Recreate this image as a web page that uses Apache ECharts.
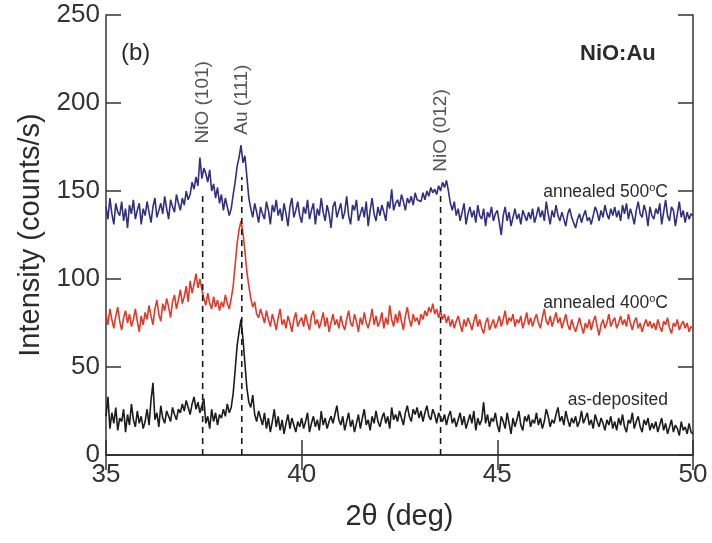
<!DOCTYPE html>
<html>
<head>
<meta charset="utf-8">
<script src="https://cdn.jsdelivr.net/npm/echarts@6/dist/echarts.min.js"></script>
<style>
html, body { margin: 0; padding: 0; background: #fff; }
#chart { width: 712px; height: 543px; }
</style>
</head>
<body>
<div id="chart"></div>
<script>
// scan grid: 35..50 deg, 0.05 deg step
const scanStart = 35
const scanStep = 0.05

const annealed500 = [
    141,134,146,137,131,143,138,136,144,133,140,129,142,137,145,134,139,143,131,140,
    136,144,138,132,141,146,135,139,143,137,147,140,134,145,141,138,148,143,139,146,
    142,150,145,148,155,151,158,153,169,157,163,160,155,162,150,154,146,152,143,148,
    139,146,141,136,140,148,155,164,169,176,166,170,158,146,140,135,143,138,132,141,
    137,134,144,139,131,142,138,145,136,140,133,143,137,130,141,146,135,139,144,136,
    132,141,137,145,134,139,143,131,140,136,146,138,133,142,137,129,141,144,135,139,
    143,134,138,147,136,131,142,139,145,133,137,141,135,144,130,139,146,137,133,141,
    136,142,138,133,144,140,151,139,143,145,141,148,144,139,146,143,147,142,149,145,
    146,144,149,145,150,147,152,149,151,148,153,150,155,152,156,150,143,139,144,136,
    140,133,138,143,131,137,141,135,139,132,142,136,134,140,130,138,135,141,133,137,
    139,132,125,136,141,133,138,130,135,140,134,137,131,139,136,133,138,134,140,132,
    136,141,135,139,133,144,137,131,139,135,142,136,133,138,134,130,137,140,135,132,
    129,134,137,132,136,139,133,135,131,136,141,138,133,139,135,142,137,134,140,136,
    141,135,139,133,142,137,143,134,140,136,131,139,144,137,135,142,138,130,141,136,
    134,140,137,143,131,138,145,136,133,141,139,130,137,144,135,139,132,138,134,137,
    136
]

const annealed400 = [
    80,74,83,77,72,79,84,76,71,78,82,75,80,73,77,83,76,70,79,74,
    81,77,85,79,74,83,88,80,76,86,82,89,84,78,87,91,83,88,94,86,
    90,96,87,99,92,97,103,95,100,94,89,85,92,86,83,90,84,88,82,87,
    84,91,86,83,89,96,108,120,128,133,126,116,104,96,89,84,87,80,78,83,
    79,75,82,77,73,80,76,71,78,83,74,77,72,79,75,70,77,81,73,76,
    78,73,80,75,71,79,82,74,77,72,76,81,73,78,70,75,80,74,77,72,
    79,74,71,77,82,75,73,80,76,70,78,74,81,75,72,77,83,74,79,73,
    76,81,72,78,74,85,77,73,80,75,82,76,71,79,84,77,73,80,76,78,
    74,80,77,82,79,84,81,86,80,83,78,82,77,80,75,79,73,77,72,76,
    79,74,70,77,73,78,75,71,76,80,73,77,72,69,75,78,71,74,77,72,
    75,79,73,77,82,74,78,76,80,73,77,75,79,72,76,81,74,78,73,77,
    80,75,72,78,83,76,74,79,73,77,81,75,78,72,76,80,74,71,77,73,
    70,74,78,73,69,75,72,77,71,76,79,73,68,74,77,72,75,80,73,76,
    78,72,75,79,74,77,73,80,75,71,76,78,72,75,70,74,77,73,76,72,
    75,71,77,73,70,76,74,78,72,69,75,73,77,71,74,76,72,75,70,73,
    72
]

const asDeposited = [
    22,33,15,24,18,27,14,21,19,26,13,23,17,29,20,16,25,18,22,15,
    19,26,17,31,41,20,24,16,28,21,18,25,22,19,27,23,20,26,24,29,
    25,31,27,23,29,33,26,30,24,28,32,18,22,15,26,19,24,17,23,21,
    26,22,29,24,27,35,48,62,70,77,66,52,38,30,27,34,23,19,25,21,
    17,24,15,21,13,19,26,16,22,14,20,12,18,23,15,21,17,13,19,16,
    21,15,19,24,13,18,22,16,20,14,25,17,21,15,19,22,18,23,28,20,
    17,22,14,19,24,16,20,13,18,23,15,21,26,17,20,14,22,18,25,19,
    16,21,24,18,22,15,27,20,23,19,25,21,17,24,28,22,19,26,23,27,
    21,25,19,24,28,22,20,26,23,18,24,21,19,23,17,22,25,18,21,16,
    20,24,17,22,15,19,23,18,25,14,21,17,20,30,18,23,16,21,19,24,
    17,13,22,19,15,24,18,12,21,16,20,25,17,14,22,19,23,16,20,18,
    24,17,21,15,19,26,22,16,20,18,23,27,19,22,17,25,20,16,21,18,
    22,16,19,25,18,21,24,17,20,15,23,19,16,21,18,14,20,17,22,15,
    19,14,21,17,23,16,13,20,18,24,15,19,22,16,13,20,17,21,14,18,
    15,19,13,17,21,14,18,12,16,20,13,17,15,11,19,14,16,12,18,13,
    12
]

// reflection markers
const peakNames = ['NiO (101)', 'Au (111)', 'NiO (012)']
const peakPos = [37.47, 38.47, 43.55]
const peakLineTop = [149, 158, 148]
const peakLabelAt = [177, 182, 161]

const font = 'Liberation Sans, Arial, Helvetica, sans-serif'

function toPairs(arr) {
    return arr.map((v, i) => [+(scanStart + i * scanStep).toFixed(2), v])
}

let series = [
    { name: 'annealed 500', data: toPairs(annealed500), color: '#332f7e' },
    { name: 'annealed 400', data: toPairs(annealed400), color: '#e03a2a' },
    { name: 'as-deposited', data: toPairs(asDeposited), color: '#1c1c1c' }
].map(s => ({
    type: 'line',
    name: s.name,
    data: s.data,
    symbol: 'none',
    animation: false,
    lineStyle: { color: s.color, width: 1.6 },
    z: 2
}))

peakPos.forEach((p, i) => {
    series.push({
        type: 'line',
        data: [[p, 0], [p, peakLineTop[i]]],
        symbol: 'none',
        animation: false,
        lineStyle: { color: '#1a1a1a', width: 1.6, type: [6, 5] },
        z: 3
    })
})

series.push({
    type: 'scatter',
    symbolSize: 0,
    animation: false,
    data: peakPos.map((p, i) => ({ value: [p, peakLabelAt[i]], name: peakNames[i] })),
    label: {
        show: true,
        position: 'inside',
        rotate: 90,
        align: 'left',
        verticalAlign: 'middle',
        formatter: p => p.name,
        fontFamily: font,
        fontSize: 19,
        color: '#2b2b2b'
    }
})

const axisCommon = {
    axisLine: { show: true, lineStyle: { color: '#333', width: 1.5 } },
    axisTick: { show: true, inside: true, length: 15, lineStyle: { color: '#333', width: 1.5 } },
    splitLine: { show: false }
}

let myChart = echarts.init(document.getElementById('chart'))
myChart.setOption({
    animation: false,
    grid: { left: 106, right: 19, top: 15, bottom: 88 },
    xAxis: [
        Object.assign({}, axisCommon, {
            type: 'value', min: 35, max: 50, interval: 5, position: 'bottom',
            name: '2θ (deg)', nameLocation: 'middle', nameGap: 47,
            nameTextStyle: { fontFamily: font, fontSize: 29, color: '#2b2b2b' },
            axisLabel: { fontFamily: font, fontSize: 26, color: '#333', margin: 7 }
        }),
        Object.assign({}, axisCommon, {
            type: 'value', min: 35, max: 50, interval: 5, position: 'top',
            axisLabel: { show: false }
        })
    ],
    yAxis: [
        Object.assign({}, axisCommon, {
            type: 'value', min: 0, max: 250, interval: 50, position: 'left',
            name: 'Intensity (counts/s)', nameLocation: 'middle', nameGap: 61,
            nameTextStyle: { fontFamily: font, fontSize: 29, color: '#2b2b2b' },
            axisLabel: { fontFamily: font, fontSize: 26, color: '#333', margin: 6 }
        }),
        Object.assign({}, axisCommon, {
            type: 'value', min: 0, max: 250, interval: 50, position: 'right',
            axisLabel: { show: false }
        })
    ],
    series: series,
    graphic: [
        { type: 'text', left: 121, top: 41, style: { text: '(b)', fontFamily: font, fontSize: 24, fill: '#2b2b2b' } },
        { type: 'text', left: 580, top: 43, style: { text: 'NiO:Au', fontFamily: font, fontSize: 22, fontWeight: 'bold', fill: '#2b2b2b' } },
        {
            type: 'text', right: 44, top: 182,
            style: {
                text: 'annealed 500{s|o}C', fontFamily: font, fontSize: 17.5, fill: '#2b2b2b',
                rich: { s: { fontFamily: font, fontSize: 11, padding: [0, 0, 9, 0], fill: '#2b2b2b' } }
            }
        },
        {
            type: 'text', right: 44, top: 293,
            style: {
                text: 'annealed 400{s|o}C', fontFamily: font, fontSize: 17.5, fill: '#2b2b2b',
                rich: { s: { fontFamily: font, fontSize: 11, padding: [0, 0, 9, 0], fill: '#2b2b2b' } }
            }
        },
        { type: 'text', right: 44, top: 391, style: { text: 'as-deposited', fontFamily: font, fontSize: 17.5, fill: '#2b2b2b' } }
    ]
})
</script>
</body>
</html>
